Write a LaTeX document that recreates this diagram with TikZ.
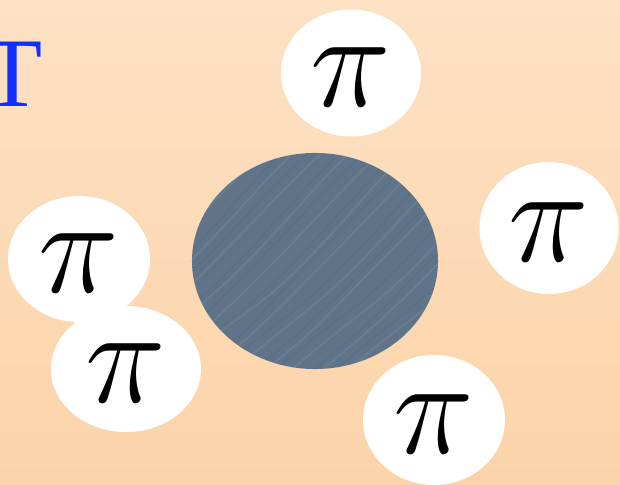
\documentclass[tikz,border=0pt]{standalone}
\usepackage{fix-cm}
\usepackage{fontspec}
\usetikzlibrary{shapes.geometric}
\newfontfamily\serifpi{Liberation Serif}
\definecolor{bgtop}{RGB}{253,225,196}
\definecolor{bgbot}{RGB}{251,211,168}
\definecolor{corecol}{RGB}{96,116,137}
\definecolor{streakcol}{RGB}{128,148,168}
\definecolor{streakdk}{RGB}{80,98,118}
\definecolor{lettercol}{RGB}{16,48,255}

\begin{document}
\begin{tikzpicture}[x=0.025cm, y=-0.025cm]

	% --- Parameters ---
	\def\W{620}
	\def\H{485}

	\tikzset{
		pion/.style={ellipse, fill=white, inner sep=0pt,
				font=\fontsize{97}{97}\selectfont},
		core/.style={ellipse, fill=corecol, inner sep=0pt,
				minimum width=6.15cm, minimum height=5.4cm}
	}

	% =============================================
	%  BACKGROUND
	% =============================================

	\useasboundingbox (0,0) rectangle (\W,\H);
	\shade[top color=bgtop, bottom color=bgbot] (0,0) rectangle (\W,\H);

	% Letter cut at the left edge
	\node[lettercol, font=\serifpi\fontsize{70}{70}\selectfont, inner sep=0pt]
	(lett) at (13,74) {T};

	% =============================================
	%  CENTRAL BLOB
	% =============================================

	\node[core] (nuc) at (315,261) {};

	% faint streaks
	\begin{scope}
		\clip (315,261) ellipse (123 and 108);
		\foreach \k/\d in {-260/3,-226/-4,-200/2,-168/5,-140/-2,-110/4,-84/-3,
				-52/2,-28/-5,0/3,30/-2,56/4,88/-3,114/2,146/-4,172/3,204/-2,
				232/4,260/-3} {
				\draw[streakcol, opacity=0.3, line width=1.4pt]
				(150+\k,420) to[out=45,in=-140] (230+\k+\d,350)
				to[out=40,in=-135] (320+\k-\d,270) to[out=45,in=-140] (480+\k,110);
				\draw[streakdk, opacity=0.22, line width=1pt]
				(162+\k,424) to[out=45,in=-140] (242+\k-\d,354)
				to[out=40,in=-135] (332+\k+\d,274) to[out=45,in=-140] (492+\k,114);
			}
	\end{scope}

	% =============================================
	%  PIONS
	% =============================================

	% name / x / y / width / height  (in px)
	\foreach \nm/\px/\py/\w/\h in {top/351/73/140/127, right/549/228/139/132,
			upl/79/259/142/126, lowl/126/369/150/126, bot/434/420/142/130} {
			\node[pion, minimum width=\w*0.025cm, minimum height=\h*0.025cm]
			(pi-\nm) at (\px,\py) {};
			\node[font=\fontsize{97}{97}\selectfont, inner sep=0pt, yshift=-3pt]
			(lbl-\nm) at (pi-\nm) {$\pi$};
		}

\end{tikzpicture}
\end{document}
